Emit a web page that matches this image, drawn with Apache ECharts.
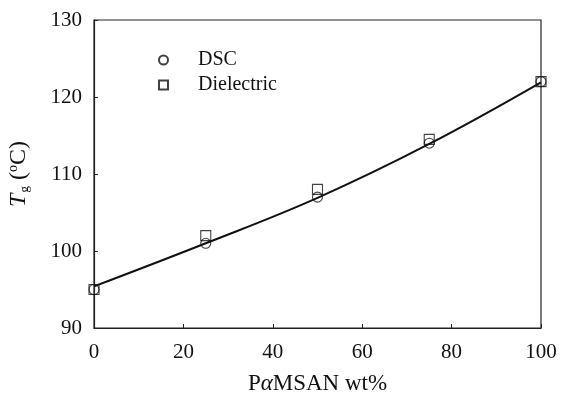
<!DOCTYPE html>
<html>
<head>
<meta charset="utf-8">
<script src="https://cdn.jsdelivr.net/npm/echarts@6/dist/echarts.min.js"></script>
<style>
  html, body { margin: 0; padding: 0; background: #fff; }
  #chart { width: 561px; height: 399px; }
</style>
</head>
<body>
<div id="chart"></div>
<script>
// Composition (wt% PαMSAN) and glass transition temperatures
const wtPercent = [0, 25, 50, 75, 100];
const tgDSC = [95, 101, 107, 114, 122];
const tgDielectric = [95, 102, 108, 114.5, 122];

// Points along the fitted curve
const fitX = [0, 25, 50, 75, 100];
const fitY = [95.4, 101.0, 106.9, 113.9, 121.9];

const xTicks = { min: 0, max: 100, interval: 20 };
const yTicks = { min: 90, max: 130, interval: 10 };

const serif = 'Liberation Serif';

const pairs = (xs, ys) => xs.map((x, i) => [x, ys[i]]);

const chart = echarts.init(document.getElementById('chart'), null, { renderer: 'canvas' });

chart.setOption({
  animation: false,
  backgroundColor: '#fff',
  textStyle: { fontFamily: serif, color: '#111' },
  grid: {
    left: 94, right: 20, top: 20, bottom: 71,
    containLabel: false, outerBoundsMode: 'none',
    show: true, borderColor: '#222', borderWidth: 1.2, backgroundColor: 'transparent'
  },
  legend: {
    orient: 'vertical',
    left: 153, top: 45, padding: 5,
    itemWidth: 9, itemHeight: 9, itemGap: 5,
    textStyle: { fontFamily: serif, fontSize: 20, color: '#111', padding: [0, 0, 0, 25] },
    data: [
      { name: 'DSC', icon: 'circle' },
      { name: 'Dielectric', icon: 'rect' }
    ]
  },
  xAxis: {
    type: 'value',
    min: xTicks.min, max: xTicks.max, interval: xTicks.interval,
    name: '{a|P}{b|α}{a|MSAN wt%}',
    nameLocation: 'middle', nameGap: 44,
    nameTextStyle: {
      rich: {
        a: { fontFamily: serif, fontSize: 23, color: '#111' },
        b: { fontFamily: serif, fontSize: 23, fontStyle: 'italic', color: '#111' }
      }
    },
    axisLine: { lineStyle: { color: '#222', width: 1.2 } },
    axisTick: { inside: true, length: 4, lineStyle: { color: '#222' } },
    axisLabel: { fontFamily: serif, fontSize: 21, color: '#111', margin: 14 },
    splitLine: { show: false }
  },
  yAxis: {
    type: 'value',
    min: yTicks.min, max: yTicks.max, interval: yTicks.interval,
    name: '{t|T}{s|g}{p| (}{u|o}{p|C)}',
    nameLocation: 'middle', nameGap: 60, nameRotate: 90,
    nameTextStyle: {
      rich: {
        t: { fontFamily: serif, fontSize: 24, fontStyle: 'italic', color: '#111', lineHeight: 30, verticalAlign: 'middle' },
        s: { fontFamily: serif, fontSize: 13, color: '#111', padding: [12, 0, 0, 1], verticalAlign: 'middle' },
        p: { fontFamily: serif, fontSize: 24, color: '#111', lineHeight: 30, verticalAlign: 'middle' },
        u: { fontFamily: serif, fontSize: 14, color: '#111', padding: [0, 0, 12, 0], verticalAlign: 'middle' }
      }
    },
    axisLine: { lineStyle: { color: '#222', width: 1.2 } },
    axisTick: { inside: true, length: 4, lineStyle: { color: '#222' } },
    axisLabel: { fontFamily: serif, fontSize: 21, color: '#111', margin: 12 },
    splitLine: { show: false }
  },
  series: [
    {
      name: 'fit',
      type: 'line',
      data: pairs(fitX, fitY),
      smooth: 0.4,
      showSymbol: false,
      lineStyle: { color: '#111', width: 2 },
      z: 2
    },
    {
      name: 'DSC',
      type: 'scatter',
      data: pairs(wtPercent, tgDSC),
      symbol: 'circle',
      symbolSize: 10,
      itemStyle: { color: 'rgba(255,255,255,0)', borderColor: '#111', borderWidth: 1.1 },
      z: 3
    },
    {
      name: 'Dielectric',
      type: 'scatter',
      data: pairs(wtPercent, tgDielectric),
      symbol: 'rect',
      symbolSize: 10,
      itemStyle: { color: 'rgba(255,255,255,0)', borderColor: '#111', borderWidth: 1.1 },
      z: 4
    }
  ]
});
</script>
</body>
</html>
